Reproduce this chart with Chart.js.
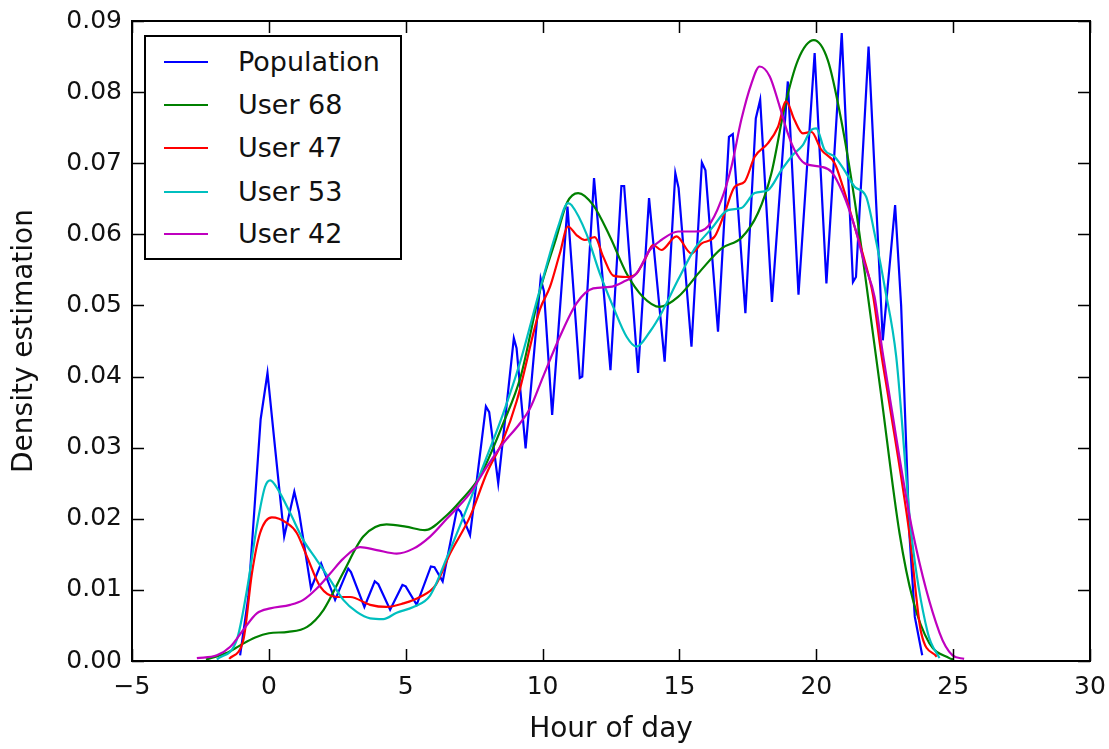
<!DOCTYPE html>
<html>
<head>
<meta charset="utf-8">
<script src="https://cdn.jsdelivr.net/npm/chart.js@4.4.0/dist/chart.umd.min.js"></script>
<style>
  html, body { margin: 0; padding: 0; background: #fff; }
  #wrap { position: relative; width: 1109px; height: 749px; }
  #legend {
    position: absolute; left: 144px; top: 35px; width: 254px; height: 221px;
    border: 2px solid #000; background: #fff;
    font-family: "DejaVu Sans", sans-serif; font-size: 27px; color: #111;
  }
  .item { position: absolute; left: 0; width: 100%; height: 32px; }
  .swatch { position: absolute; left: 18px; top: 15px; width: 44px; height: 0; border-top: 2px solid; }
  .label { position: absolute; left: 92px; top: 0; line-height: 32px; white-space: nowrap; }
</style>
</head>
<body>
<div id="wrap">
  <canvas id="chart" width="1109" height="749"></canvas>
  <div id="legend"></div>
</div>
<script>
// ---- data ----
const xTicks = [-5, 0, 5, 10, 15, 20, 25, 30];
const yTicks = [0, 0.01, 0.02, 0.03, 0.04, 0.05, 0.06, 0.07, 0.08, 0.09];

const seriesNames = ['Population', 'User 68', 'User 47', 'User 53', 'User 42'];
const seriesColors = ['#0000ff', '#008000', '#ff0000', '#00bfbf', '#bf00bf'];

const popHours = [-1.05, -0.75, -0.3, -0.05, 0.2, 0.56, 0.93, 1.1, 1.54, 1.91, 2.42, 2.9, 3.0, 3.49, 3.87, 4.0,
  4.43, 4.88, 5.0, 5.4, 5.92, 6.05, 6.35, 6.88, 7.0, 7.35, 7.93, 8.05, 8.38, 8.95, 9.05, 9.38, 9.93, 10.05,
  10.35, 10.91, 11.36, 11.45, 11.88, 12.48, 12.88, 12.98, 13.49, 13.89, 14.46, 14.85, 14.97, 15.44, 15.82,
  15.95, 16.41, 16.81, 16.95, 17.41, 17.79, 17.95, 18.38, 18.96, 19.35, 19.94, 20.37, 20.93, 21.34, 21.45,
  21.91, 22.43, 22.88, 23.1, 23.4, 23.6, 23.87];
const popDensity = [0.0008, 0.009, 0.034, 0.0405, 0.031, 0.0175, 0.0238, 0.021, 0.0102, 0.0137, 0.0086, 0.013, 0.0125, 0.0076, 0.0112, 0.0108,
  0.0072, 0.0107, 0.0105, 0.0079, 0.0133, 0.0132, 0.0112, 0.0215, 0.021, 0.0177, 0.0358, 0.035, 0.025, 0.0454, 0.044, 0.0299, 0.0538, 0.052,
  0.0346, 0.0639, 0.0398, 0.0400, 0.0679, 0.0409, 0.0668, 0.0668, 0.0405, 0.0651, 0.0421, 0.0686, 0.0665, 0.0442, 0.0701,
  0.0690, 0.0463, 0.0737, 0.0741, 0.0489, 0.0763, 0.0789, 0.0505, 0.0815, 0.0515, 0.0855, 0.0531, 0.0883, 0.0533, 0.0540,
  0.0864, 0.0451, 0.0641, 0.050, 0.018, 0.0062, 0.0008];

const user68Hours = [-2.3, -1.5, -1.05, -0.5, 0, 0.7, 1.4, 2.0, 2.7, 3.45, 4.3, 5.0, 5.7, 6.5, 7.0, 7.7, 8.56, 9.2, 9.9,
  10.5, 10.9, 11.3, 11.85, 12.46, 13.07, 13.67, 14.28, 14.95, 15.8, 16.53, 17.26, 17.87, 18.36, 18.84, 19.33, 19.91,
  20.42, 20.91, 21.4, 21.88, 22.35, 23.04, 23.53, 24.13, 24.86, 25.0];
const user68Density = [0.0002, 0.0012, 0.0022, 0.0033, 0.0039, 0.0041, 0.0048, 0.0072, 0.0123, 0.0175, 0.0192, 0.0189, 0.0184, 0.0205, 0.0225, 0.0259, 0.0334, 0.040, 0.052,
  0.0595, 0.0645, 0.0658, 0.0641, 0.0597, 0.0545, 0.0512, 0.0498, 0.0512, 0.055, 0.058, 0.0595, 0.063, 0.0686, 0.0778, 0.0845, 0.0873,
  0.0845, 0.0761, 0.0648, 0.0515, 0.0380, 0.018, 0.0086, 0.0025, 0.0004, 0.0002];

const user47Hours = [-1.45, -0.93, -0.62, -0.32, 0.11, 0.66, 1.02, 1.39, 1.87, 2.48, 2.97, 3.7, 4.3, 4.91, 5.52, 6.1, 6.62,
  7.35, 7.96, 8.56, 9.05, 9.9, 10.27, 10.63, 10.93, 11.24, 11.54, 11.91, 12.21, 12.58, 13.07, 13.43, 13.73, 14.04, 14.34,
  14.89, 15.44, 15.8, 16.29, 16.65, 17.02, 17.38, 17.75, 18.23, 18.6, 18.9, 19.2, 19.51, 19.82, 20.18, 20.67, 20.97,
  21.4, 21.76, 22.07, 22.37, 22.65, 23.4, 23.83, 24.4];
const user47Density = [0.0003, 0.003, 0.0123, 0.018, 0.0202, 0.0194, 0.018, 0.0147, 0.0105, 0.009, 0.009, 0.0079, 0.0076, 0.0081, 0.009, 0.0107, 0.0151,
  0.0203, 0.0264, 0.0311, 0.0365, 0.0494, 0.0526, 0.0573, 0.0611, 0.0599, 0.0592, 0.0596, 0.0569, 0.0542, 0.054, 0.0545, 0.0564, 0.0585, 0.0578,
  0.0597, 0.0573, 0.0587, 0.0597, 0.063, 0.0667, 0.0674, 0.0709, 0.0728, 0.0751, 0.0787, 0.0761, 0.0742, 0.0744, 0.0719, 0.07, 0.0667,
  0.0611, 0.0564, 0.0515, 0.0433, 0.0367, 0.018, 0.004, 0.0006];

const user53Hours = [-1.9, -1.17, -0.8, -0.44, -0.14, 0.05, 0.35, 0.78, 1.26, 1.75, 2.24, 2.72, 3.21, 3.7, 4.18, 4.67, 5.28,
  5.89, 6.5, 7.35, 7.96, 8.56, 9.17, 9.9, 10.57, 10.93, 11.06, 11.6, 12.09, 12.58, 13.07, 13.43, 13.92, 14.34, 14.95,
  15.56, 16.17, 16.77, 17.26, 17.75, 18.23, 18.72, 19.15, 19.5, 19.82, 20.0, 20.3, 20.67, 21.03, 21.4, 21.82, 22.13,
  22.5, 22.92, 23.47, 24.07, 24.5];
const user53Density = [0.0002, 0.003, 0.010, 0.0189, 0.0245, 0.0254, 0.024, 0.0208, 0.017, 0.0142, 0.0114, 0.0086, 0.0069, 0.006, 0.0059, 0.0068, 0.0076,
  0.0092, 0.0145, 0.0226, 0.0287, 0.0348, 0.0419, 0.0522, 0.0611, 0.0644, 0.0641, 0.0601, 0.0545, 0.0498, 0.0456, 0.0442, 0.0463, 0.0489, 0.0536,
  0.058, 0.0608, 0.0634, 0.0637, 0.0658, 0.0662, 0.069, 0.0712, 0.0725, 0.0747, 0.0749, 0.0719, 0.0709, 0.069, 0.0667, 0.0653, 0.0601,
  0.0526, 0.0428, 0.018, 0.004, 0.0004];

const user42Hours = [-2.63, -1.9, -1.41, -0.93, -0.44, 0.05, 0.78, 1.26, 1.75, 2.24, 2.72, 3.33, 3.94, 4.67, 5.28, 5.89, 6.5,
  7.35, 7.96, 8.56, 9.17, 9.54, 10.02, 10.63, 11.24, 11.85, 12.46, 12.94, 13.43, 13.92, 14.34, 14.95, 15.56, 16.04, 16.53,
  16.9, 17.26, 17.63, 17.93, 18.3, 18.66, 18.96, 19.2, 19.57, 20.18, 20.55, 20.97, 21.4, 21.76, 22.13, 22.42, 22.7,
  23.53, 24.5, 24.98, 25.4];
const user42Density = [0.0004, 0.0008, 0.002, 0.0044, 0.0067, 0.0074, 0.0079, 0.0086, 0.0102, 0.0123, 0.0144, 0.016, 0.0156, 0.0151, 0.0158, 0.0175, 0.0200,
  0.0236, 0.0273, 0.0306, 0.0334, 0.0355, 0.040, 0.0456, 0.0503, 0.0524, 0.0526, 0.0533, 0.0545, 0.0578, 0.0592, 0.0604, 0.0604, 0.0611, 0.0648,
  0.0695, 0.0761, 0.0812, 0.0836, 0.0822, 0.078, 0.0742, 0.0719, 0.070, 0.0695, 0.0688, 0.0658, 0.0611, 0.0559, 0.0512, 0.0435, 0.0367,
  0.018, 0.004, 0.0008, 0.0003];

const seriesHours = [popHours, user68Hours, user47Hours, user53Hours, user42Hours];
const seriesDensity = [popDensity, user68Density, user47Density, user53Density, user42Density];

const FONT = '"DejaVu Sans", sans-serif';
const TICK_LEN = 12;

const datasets = seriesNames.map((name, i) => ({
  label: name,
  data: seriesHours[i].map((h, k) => ({ x: h, y: seriesDensity[i][k] })),
  borderColor: seriesColors[i],
  borderWidth: 2.2,
  pointRadius: 0,
  fill: false,
  tension: i === 0 ? 0 : 0.4,
  cubicInterpolationMode: i === 0 ? 'default' : 'monotone',
  order: seriesNames.length - i   // first series drawn underneath, like matplotlib
}));

// frame round the plot and inward ticks on all four sides
const frameTicks = {
  id: 'frameTicks',
  afterDatasetsDraw(chart) {
    const { ctx, chartArea: a, scales: { x, y } } = chart;
    ctx.save();
    ctx.strokeStyle = '#000';
    ctx.lineWidth = 1.5;
    ctx.beginPath();
    x.ticks.forEach(t => {
      const px = Math.round(x.getPixelForValue(t.value)) + 0.5;
      ctx.moveTo(px, a.bottom); ctx.lineTo(px, a.bottom - TICK_LEN);
      ctx.moveTo(px, a.top); ctx.lineTo(px, a.top + TICK_LEN);
    });
    y.ticks.forEach(t => {
      const py = Math.round(y.getPixelForValue(t.value)) + 0.5;
      ctx.moveTo(a.left, py); ctx.lineTo(a.left + TICK_LEN, py);
      ctx.moveTo(a.right, py); ctx.lineTo(a.right - TICK_LEN, py);
    });
    ctx.stroke();
    ctx.lineWidth = 2;
    ctx.strokeRect(a.left, a.top, a.width, a.height);
    ctx.restore();
  }
};

const chart = new Chart(document.getElementById('chart'), {
  type: 'line',
  data: { datasets },
  options: {
    responsive: false,
    devicePixelRatio: 1,
    animation: false,
    layout: { padding: { top: 21, right: 19, left: 0, bottom: 0 } },
    plugins: { legend: { display: false }, tooltip: { enabled: false } },
    scales: {
      x: {
        type: 'linear',
        min: -5, max: 30,
        afterBuildTicks: s => { s.ticks = xTicks.map(v => ({ value: v })); },
        afterFit: s => { s.height = 88; s.paddingLeft = 0; s.paddingRight = 0; },
        grid: { display: false, drawTicks: false },
        border: { display: false },
        ticks: {
          padding: 11,
          color: '#111',
          font: { family: FONT, size: 25 },
          callback: v => (v < 0 ? '\u2212' + Math.abs(v) : String(v))
        },
        title: {
          display: true, text: 'Hour of day', color: '#111',
          font: { family: FONT, size: 28 }, padding: { top: 0, bottom: 2 }
        }
      },
      y: {
        min: 0, max: 0.09,
        afterBuildTicks: s => { s.ticks = yTicks.map(v => ({ value: v })); },
        afterFit: s => { s.width = 132; s.paddingTop = 0; s.paddingBottom = 0; },
        grid: { display: false, drawTicks: false },
        border: { display: false },
        ticks: {
          padding: 10,
          color: '#111',
          font: { family: FONT, size: 25 },
          callback: v => v.toFixed(2)
        },
        title: {
          display: true, text: 'Density estimation', color: '#111',
          font: { family: FONT, size: 28 }, padding: { top: 8, bottom: 0 }
        }
      }
    }
  },
  plugins: [frameTicks]
});

// legend inside the axes, as real text
const legend = document.getElementById('legend');
const rowTops = [9, 52, 95, 139, 181];
seriesNames.forEach((name, i) => {
  const item = document.createElement('div');
  item.className = 'item';
  item.style.top = rowTops[i] + 'px';
  const sw = document.createElement('div');
  sw.className = 'swatch';
  sw.style.borderTopColor = seriesColors[i];
  const lb = document.createElement('div');
  lb.className = 'label';
  lb.textContent = name;
  item.appendChild(sw);
  item.appendChild(lb);
  legend.appendChild(item);
});
</script>
</body>
</html>
